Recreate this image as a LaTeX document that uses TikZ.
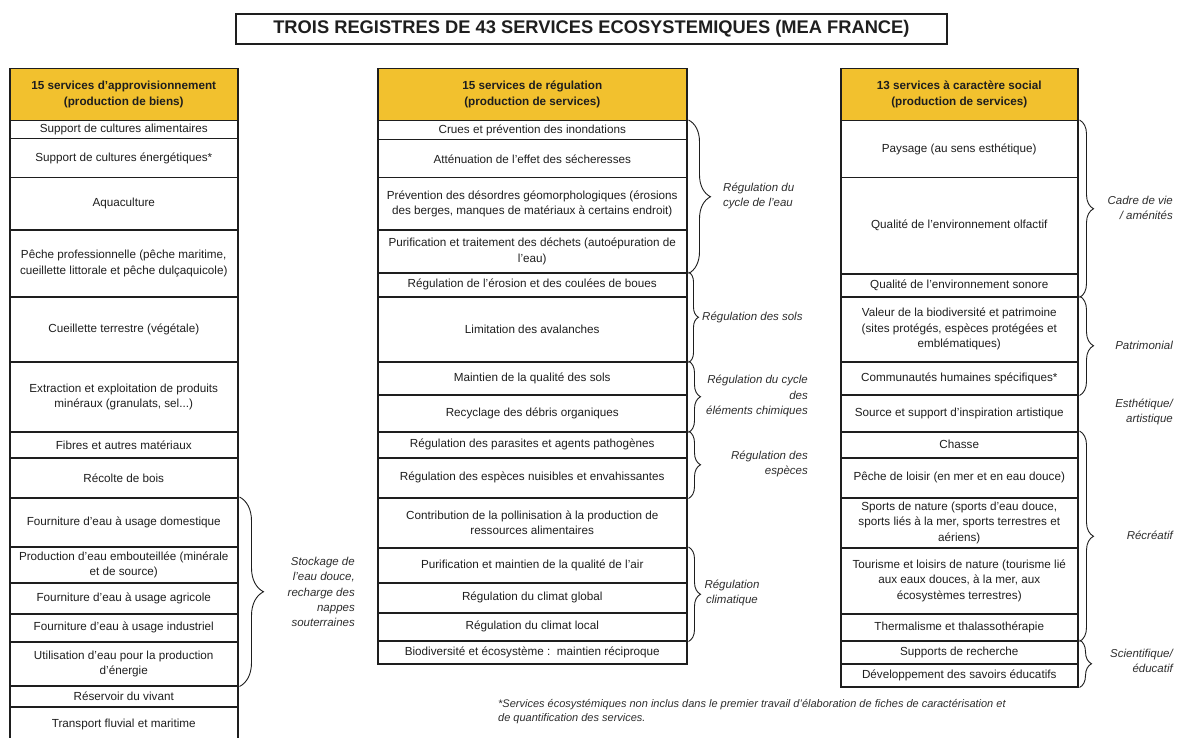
\documentclass[tikz,border=0pt]{standalone}
\usepackage{fontspec}
\setmainfont{Liberation Sans}
\usetikzlibrary{decorations.pathreplacing}
\definecolor{gold}{RGB}{242,193,46}
\definecolor{ink}{RGB}{30,30,30}
\definecolor{labc}{RGB}{45,45,45}
\newcommand\svc[6]{%
  \node[cell, minimum width=#3pt, minimum height={(#5-#4)*1pt}] (#1) at (#2,#4) {#6};}
\newcommand\hsvc[6]{%
  \node[head, minimum width=#3pt, minimum height={(#5-#4)*1pt}] (#1) at (#2,#4) {#6};}
\begin{document}
\begin{tikzpicture}[x=1pt,y=-1pt,
  cell/.style={draw=ink, line width=1.5pt, inner sep=0pt, anchor=north west, align=center,
    text=ink, font=\fontsize{11.7}{15.5}\selectfont},
  head/.style={cell, fill=gold, font=\bfseries\fontsize{11.7}{16}\selectfont},
  lab/.style={font=\itshape\fontsize{11.5}{15.3}\selectfont, text=labc, inner sep=0pt},
  brc/.style={draw=ink, line width=0.9pt, decorate, decoration={brace, amplitude=#1}},
]
\useasboundingbox (0,0) rectangle (1177,738);
\clip (0,0) rectangle (1177,738);

\node[draw=ink, line width=1.8pt, minimum width=711pt, minimum height=30pt, inner sep=0pt,
  anchor=north west, text=ink, font=\bfseries\fontsize{18.3}{20}\selectfont] (title) at (235,13)
  {TROIS REGISTRES DE 43 SERVICES ECOSYSTEMIQUES (MEA FRANCE)};

% ---- left column
\hsvc{LH}{9}{228}{68}{120}{15 services d'approvisionnement\\(production de biens)}
\svc{L1}{9}{228}{120}{138}{Support de cultures alimentaires}
\svc{L2}{9}{228}{138}{177}{Support de cultures énergétiques*}
\svc{L3}{9}{228}{177}{229}{Aquaculture}
\svc{L4}{9}{228}{229}{296}{Pêche professionnelle (pêche maritime,\\cueillette littorale et pêche dulçaquicole)}
\svc{L5}{9}{228}{296}{361}{Cueillette terrestre (végétale)}
\svc{L6}{9}{228}{361}{431}{Extraction et exploitation de produits\\minéraux (granulats, sel...)}
\svc{L7}{9}{228}{431}{457}{Fibres et autres matériaux}
\svc{L8}{9}{228}{457}{497}{Récolte de bois}
\svc{L9}{9}{228}{497}{546}{Fourniture d'eau à usage domestique}
\svc{L10}{9}{228}{546}{582}{Production d'eau embouteillée (minérale\\et de source)}
\svc{L11}{9}{228}{582}{613}{Fourniture d'eau à usage agricole}
\svc{L12}{9}{228}{613}{641}{Fourniture d'eau à usage industriel}
\svc{L13}{9}{228}{641}{685}{Utilisation d'eau pour la production\\d'énergie}
\svc{L14}{9}{228}{685}{706}{Réservoir du vivant}
\svc{L15}{9}{228}{706}{742}{Transport fluvial et maritime}

% ---- middle column
\hsvc{MH}{377}{309}{68}{120}{15 services de régulation\\(production de services)}
\svc{M1}{377}{309}{120}{139}{Crues et prévention des inondations}
\svc{M2}{377}{309}{139}{177}{Atténuation de l'effet des sécheresses}
\svc{M3}{377}{309}{177}{229}{Prévention des désordres géomorphologiques (érosions\\des berges, manques de matériaux à certains endroit)}
\svc{M4}{377}{309}{229}{272}{Purification et traitement des déchets (autoépuration de\\l'eau)}
\svc{M5}{377}{309}{272}{296}{Régulation de l'érosion et des coulées de boues}
\svc{M6}{377}{309}{296}{361}{Limitation des avalanches}
\svc{M7}{377}{309}{361}{394}{Maintien de la qualité des sols}
\svc{M8}{377}{309}{394}{431}{Recyclage des débris organiques}
\svc{M9}{377}{309}{431}{457}{Régulation des parasites et agents pathogènes}
\svc{M10}{377}{309}{457}{497}{Régulation des espèces nuisibles et envahissantes}
\svc{M11}{377}{309}{497}{547}{Contribution de la pollinisation à la production de\\ressources alimentaires}
\svc{M12}{377}{309}{547}{582}{Purification et maintien de la qualité de l'air}
\svc{M13}{377}{309}{582}{612}{Régulation du climat global}
\svc{M14}{377}{309}{612}{640}{Régulation du climat local}
\svc{M15}{377}{309}{640}{663}{Biodiversité et écosystème :\ \ maintien réciproque}

% ---- right column
\hsvc{RH}{840}{237}{68}{120}{13 services à caractère social\\(production de services)}
\svc{R1}{840}{237}{120}{177}{Paysage (au sens esthétique)}
\svc{R2}{840}{237}{177}{273}{Qualité de l'environnement olfactif}
\svc{R3}{840}{237}{273}{296}{Qualité de l'environnement sonore}
\svc{R4}{840}{237}{296}{361}{Valeur de la biodiversité et patrimoine\\(sites protégés, espèces protégées et\\emblématiques)}
\svc{R5}{840}{237}{361}{394}{Communautés humaines spécifiques*}
\svc{R6}{840}{237}{394}{431}{Source et support d'inspiration artistique}
\svc{R7}{840}{237}{431}{457}{Chasse}
\svc{R8}{840}{237}{457}{497}{Pêche de loisir (en mer et en eau douce)}
\svc{R9}{840}{237}{497}{547}{Sports de nature (sports d'eau douce,\\sports liés à la mer, sports terrestres et\\aériens)}
\svc{R10}{840}{237}{547}{613}{Tourisme et loisirs de nature (tourisme lié\\aux eaux douces, à la mer, aux\\écosystèmes terrestres)}
\svc{R11}{840}{237}{613}{640}{Thermalisme et thalassothérapie}
\svc{R12}{840}{237}{640}{663}{Supports de recherche}
\svc{R13}{840}{237}{663}{686}{Développement des savoirs éducatifs}

% ---- braces
\draw[brc=24pt] ([xshift=1pt]L9.north east) -- ([xshift=1pt]L13.south east);
\draw[brc=22pt] ([xshift=1pt]M1.north east) -- ([xshift=1pt]M4.south east);
\draw[brc=10pt] ([xshift=1pt]M5.north east) -- ([xshift=1pt]M6.south east);
\draw[brc=12pt] ([xshift=1pt]M7.north east) -- ([xshift=1pt]M8.south east);
\draw[brc=12pt] ([xshift=1pt]M9.north east) -- ([xshift=1pt]M10.south east);
\draw[brc=12pt] ([xshift=1pt]M12.north east) -- ([xshift=1pt]M14.south east);
\draw[brc=14pt] ([xshift=1pt]R1.north east) -- ([xshift=1pt]R3.south east);
\draw[brc=14pt] ([xshift=1pt]R4.north east) -- ([xshift=1pt]R5.south east);
\draw[brc=14pt] ([xshift=1pt]R7.north east) -- ([xshift=1pt]R11.south east);
\draw[brc=12pt] ([xshift=1pt]R12.north east) -- ([xshift=1pt]R13.south east);

% ---- brace labels
\node[lab, align=right, anchor=east] (lstock) at (355,592) {Stockage de\\l'eau douce,\\recharge des\\nappes\\souterraines};
\node[lab, align=left, anchor=west] (leau) at (723,196) {Régulation du\\cycle de l'eau};
\node[lab, anchor=west] (lsols) at (702,317) {Régulation des sols};
\node[lab, align=right, anchor=east] (lchim) at (808,396) {Régulation du cycle\\des\\éléments chimiques};
\node[lab, align=right, anchor=east] (lesp) at (808,464) {Régulation des\\espèces};
\node[lab, align=center] (lclim) at (732,593) {Régulation\\climatique};
\node[lab, align=right, anchor=east] (lcadre) at (1173,208) {Cadre de vie\\/ aménités};
\node[lab, anchor=east] (lpatr) at (1173,345) {Patrimonial};
\node[lab, align=right, anchor=east] (lesth) at (1173,412) {Esthétique/\\artistique};
\node[lab, anchor=east] (lrecr) at (1173,535) {Récréatif};
\node[lab, align=right, anchor=east] (lscien) at (1173,661) {Scientifique/\\éducatif};

% ---- footnote
\node[lab, align=left, anchor=base west, font=\itshape\fontsize{11}{14}\selectfont] (note) at (498,721)
  {*Services écosystémiques non inclus dans le premier travail d'élaboration de fiches de caractérisation et\\de quantification des services.};
\end{tikzpicture}
\end{document}
